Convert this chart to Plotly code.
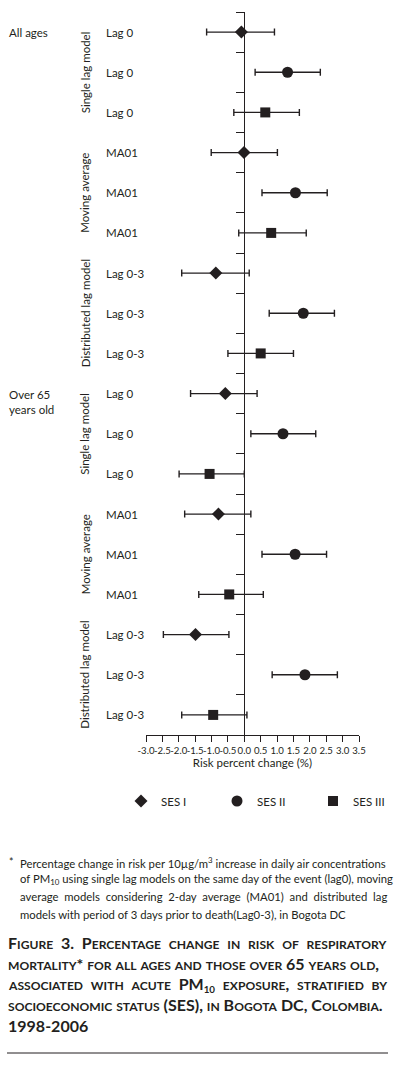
import plotly.graph_objects as go

# ---------------- data ----------------
age_groups = ["All ages", "Over 65<br>years old"]
model_names = ["Single lag model", "Moving average", "Distributed lag model"]
lag_labels = ["Lag 0", "MA01", "Lag 0-3"]
ses_names = ["SES I", "SES II", "SES III"]
ses_symbols = ["diamond", "circle", "square"]
ses_sizes = [10, 11, 10]

# order of estimates: (All ages: single, MA, distributed), (Over 65: single, MA, distributed)
ses1_est = [-0.09, -0.01, -0.87, -0.58, -0.79, -1.49]
ses1_low = [-1.15, -1.01, -1.91, -1.64, -1.82, -2.47]
ses1_up = [0.92, 1.01, 0.15, 0.39, 0.20, -0.47]

ses2_est = [1.32, 1.56, 1.80, 1.18, 1.55, 1.85]
ses2_low = [0.33, 0.54, 0.76, 0.20, 0.54, 0.85]
ses2_up = [2.32, 2.53, 2.75, 2.18, 2.51, 2.84]

ses3_est = [0.64, 0.82, 0.50, -1.06, -0.46, -0.95]
ses3_low = [-0.32, -0.17, -0.50, -1.99, -1.39, -1.91]
ses3_up = [1.68, 1.89, 1.50, 0.00, 0.58, 0.08]

x_ticks = [-3.0, -2.5, -2.0, -1.5, -1.0, -0.5, 0.0, 0.5, 1.0, 1.5, 2.0, 2.5, 3.0, 3.5]
x_title = "Risk percent change (%)"

footnote_lines = [
    "Percentage change in risk per 10µg/m<sup>3</sup> increase in daily air concentrations",
    "of PM<sub>10</sub> using single lag models on the same day of the event (lag0), moving",
    "average  models  considering  2-day  average  (MA01)  and  distributed  lag",
    "models with period of 3 days prior to death(Lag0-3), in Bogota DC",
]
caption_lines = [
    "Figure  3.  Percentage  change  in  risk  of  respiratory",
    "mortality* for all ages and those over 65 years old,",
    "associated  with  acute  PM§  exposure,  stratified  by",
    "socioeconomic status (SES), in Bogota DC, Colombia.",
    "1998-2006",
]

# ---------------- layout helpers ----------------
W, H = 399, 1066
L, R, T, B = 146, 40, 12, 331
PW, PH = W - L - R, H - T - B
INK = "#231f20"
FONT = "Lato"


def px_x(x):
    return (x - L) / PW


def px_y(y):
    return (T + PH - y) / PH


def smallcaps(text, big=16, small=12.1):
    out = []
    for ch in text:
        if ch == "§":
            out.append('<sub style="font-size:10px">10</sub>')
        elif ch.islower():
            out.append(f'<span style="font-size:{small}px">{ch.upper()}</span>')
        else:
            out.append(f'<span style="font-size:{big}px">{ch}</span>')
    return "".join(out)


series = [
    (ses1_est, ses1_low, ses1_up),
    (ses2_est, ses2_low, ses2_up),
    (ses3_est, ses3_low, ses3_up),
]

n_rows = len(age_groups) * len(model_names) * len(ses_names)

fig = go.Figure()
for s, (est, low, up) in enumerate(series):
    ys = [k * 3 + s + 0.5 for k in range(len(est))]
    fig.add_trace(go.Scatter(
        x=est, y=ys, mode="markers", name=ses_names[s],
        marker=dict(symbol=ses_symbols[s], size=ses_sizes[s], color=INK),
        error_x=dict(type="data", symmetric=False,
                     array=[u - e for u, e in zip(up, est)],
                     arrayminus=[e - l for e, l in zip(est, low)],
                     color=INK, thickness=1.4, width=3.5),
    ))

annotations = []
# row labels
for k in range(len(age_groups) * len(model_names)):
    m = k % len(model_names)
    for s in range(len(ses_names)):
        annotations.append(dict(
            x=px_x(104), xref="paper", xanchor="left",
            y=k * 3 + s + 0.5, yref="y", yanchor="middle",
            text=lag_labels[m], showarrow=False,
            font=dict(family=FONT, size=11.5, color=INK)))
    annotations.append(dict(
        x=px_x(85), xref="paper", xanchor="center",
        y=k * 3 + 1.5, yref="y", yanchor="middle",
        text=model_names[m], textangle=-90, showarrow=False,
        font=dict(family=FONT, size=11.5, color=INK)))
for a, name in enumerate(age_groups):
    annotations.append(dict(
        x=px_x(7), xref="paper", xanchor="left",
        y=a * 9 + 0.5, yref="y", yanchor="top", yshift=8,
        text=name, showarrow=False, align="left",
        font=dict(family=FONT, size=11.5, color=INK)))

# footnote
annotations.append(dict(x=px_x(7), xref="paper", xanchor="left",
                        y=px_y(862), yref="paper", yanchor="middle",
                        text="*", showarrow=False,
                        font=dict(family=FONT, size=10.5, color=INK)))
for i, line in enumerate(footnote_lines):
    annotations.append(dict(
        x=px_x(18), xref="paper", xanchor="left",
        y=px_y(862 + 17.4 * i), yref="paper", yanchor="middle",
        text=line, showarrow=False, align="left",
        font=dict(family=FONT, size=11.3, color=INK)))

# caption
for i, line in enumerate(caption_lines):
    annotations.append(dict(
        x=px_x(6), xref="paper", xanchor="left",
        y=px_y(943 + 20.5 * i), yref="paper", yanchor="middle",
        text="<b>" + smallcaps(line) + "</b>", showarrow=False, align="left",
        font=dict(family=FONT, size=14, color=INK)))

fig.update_layout(
    width=W, height=H,
    margin=dict(l=L, r=R, t=T, b=B, pad=0, autoexpand=False),
    paper_bgcolor="white", plot_bgcolor="white",
    font=dict(family=FONT, color=INK),
    showlegend=True,
    legend=dict(orientation="h", xref="paper", yref="paper",
                x=px_x(121), xanchor="left",
                y=px_y(801), yanchor="middle",
                entrywidth=51, entrywidthmode="pixels",
                font=dict(family=FONT, size=11.5, color=INK),
                bgcolor="rgba(0,0,0,0)", borderwidth=0),
    xaxis=dict(range=[x_ticks[0], x_ticks[-1]], tickmode="array",
               tickvals=x_ticks, ticktext=[f"{v:.1f}" for v in x_ticks],
               tickangle=0, ticks="outside", ticklen=6, tickwidth=1.3,
               tickcolor=INK, showline=True, linecolor=INK, linewidth=1.4,
               showgrid=False, zeroline=False, automargin=False,
               tickfont=dict(family=FONT, size=9.6, color=INK),
               title=dict(text=x_title, standoff=4,
                          font=dict(family=FONT, size=11.5, color=INK))),
    yaxis=dict(range=[n_rows, 0], anchor="free", automargin=False,
               position=(0 - x_ticks[0]) / (x_ticks[-1] - x_ticks[0]),
               tickmode="array", tickvals=list(range(n_rows)),
               showticklabels=False, ticks="outside", ticklen=8,
               tickwidth=1.3, tickcolor=INK, showline=True, linecolor=INK,
               linewidth=1.4, showgrid=False, zeroline=False),
    annotations=annotations,
    shapes=[dict(type="line", xref="paper", yref="paper",
                 x0=px_x(7), x1=px_x(388), y0=px_y(1053), y1=px_y(1053),
                 line=dict(color=INK, width=1))],
)

fig.write_html("out.html", config={"displayModeBar": False},
               post_script="document.body.style.margin='0';")
